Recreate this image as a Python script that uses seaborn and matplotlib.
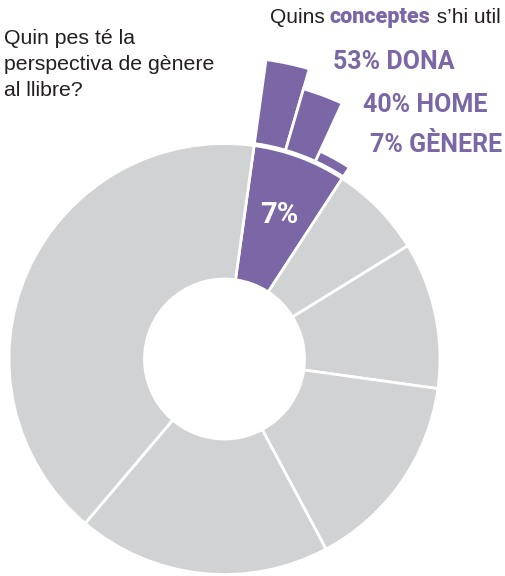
import numpy as np
import matplotlib
matplotlib.use("Agg")
import matplotlib.pyplot as plt
import seaborn as sns

# Data
ring_values = [7, 7, 11, 15, 19, 41]          # % of the book, clockwise from the top
highlight = 0                                  # the gender-perspective slice
concept_labels = ["DONA", "HOME", "GÈNERE"]
concept_values = [53, 40, 7]
title_lines = ["Quin pes té la", "perspectiva de gènere", "al llibre?"]

PURPLE = "#7B67A6"
GREY = "#D1D2D4"
INK = "#231F20"

sns.set_theme(style="white")
plt.rcParams["font.family"] = ["Liberation Sans", "DejaVu Sans"]
COND = ["Roboto", "DejaVu Sans"]

W, H = 506, 576
fig = plt.figure(figsize=(W / 100, H / 100), dpi=100)
fig.patch.set_facecolor("white")

# polar axes laid out in pixel units: centre of the donut and radii
cx, cy = 224.5, 359
rmax = 320
r_in, r_out = 80, 215.5
ax = fig.add_axes([(cx - rmax) / W, (H - cy - rmax) / H, 2 * rmax / W, 2 * rmax / H],
                  projection="polar")
ax.set_theta_zero_location("N")
ax.set_theta_direction(-1)
ax.set_ylim(0, rmax)
ax.set_axis_off()

start = 7.9
vals = np.array(ring_values, dtype=float)
spans = vals / vals.sum() * 360
lefts = start + np.concatenate([[0], np.cumsum(spans)[:-1]])
centers = lefts + spans / 2
colors = [PURPLE if i == highlight else GREY for i in range(len(vals))]

ax.bar(np.deg2rad(centers), r_out - r_in, width=np.deg2rad(spans), bottom=r_in,
       color=colors, edgecolor="white", linewidth=2)

# outer bars splitting the purple slice in three
sub = spans[highlight] / len(concept_values)
sub_centers = lefts[highlight] + sub * (np.arange(len(concept_values)) + 0.5)
scale = 1.6
ax.bar(np.deg2rad(sub_centers), np.array(concept_values) * scale, width=np.deg2rad(sub),
       bottom=217.5, color=PURPLE, edgecolor="white", linewidth=2)

ax.text(np.deg2rad(centers[highlight]), 157, f"{ring_values[highlight]}%",
        ha="center", va="center_baseline", color="white", family=COND,
        fontweight="bold", fontsize=21)


def px(x, y):
    return x / W, 1 - y / H


# question on the left
for i, line in enumerate(title_lines):
    fig.text(*px(4, 44.5 + 26 * i), line, fontsize=15.3, color=INK, va="baseline")

# header on the right, mixed styles
renderer = fig.canvas.get_renderer()
x = 269.5
for txt, kw in [("Quins ", dict(color=INK, fontsize=15)),
                ("conceptes", dict(color=PURPLE, fontsize=15.5, family=COND, fontweight="heavy")),
                (" s’hi util", dict(color=INK, fontsize=15))]:
    t = fig.text(*px(x, 23.3), txt, va="baseline", **kw)
    bb = t.get_window_extent(renderer)
    x = bb.x1

label_pos = [(333, 69.3), (363, 111.7), (370, 151.7)]
for (lx, ly), lab, v in zip(label_pos, concept_labels, concept_values):
    fig.text(*px(lx, ly), f"{v}% {lab}", color=PURPLE, family=COND,
             fontweight="bold", fontsize=18, va="baseline")

fig.savefig("out.png", dpi=100)
